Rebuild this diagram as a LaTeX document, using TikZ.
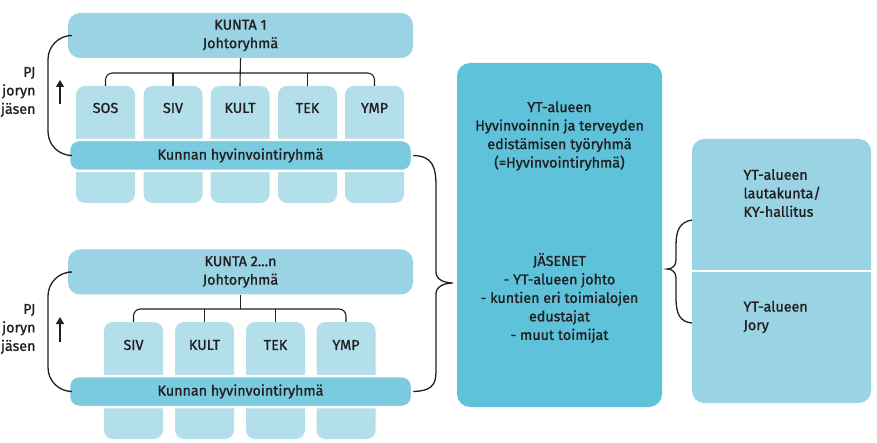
\documentclass[tikz,border=0pt]{standalone}
\usepackage{fontspec}
\setmainfont{Fira Sans}[FakeBold=1.2]
\usetikzlibrary{arrows.meta}

\definecolor{tumma}{HTML}{231F20}
\definecolor{kuntasin}{HTML}{9AD3E4}
\definecolor{sarakesin}{HTML}{B2DFEA}
\definecolor{palkkisin}{HTML}{7ACBE0}
\definecolor{ytsin}{HTML}{5DC2DA}

\begin{document}
\begin{tikzpicture}[x=1pt, y=-1pt,
	every node/.style={text=tumma, font=\fontsize{14.3}{18.5}\selectfont},
	kunta/.style={fill=kuntasin, rounded corners=12pt, minimum width=345pt, minimum height=45pt, inner sep=0pt, align=center},
	sarake/.style={fill=sarakesin, rounded corners=9pt, minimum width=59pt, minimum height=117pt, inner sep=0pt},
	palkki/.style={fill=palkkisin, draw=white, line width=2.5pt, rounded corners=10pt, minimum width=343pt, minimum height=31pt, inner sep=0pt},
	viiva/.style={draw=tumma, line width=1.1pt},
	kaari/.style={draw=tumma, line width=1.3pt},
	nuoli/.style={draw=tumma, line width=1.1pt, -{Triangle[width=8pt, length=7pt]}}]
	\useasboundingbox (0,0) rectangle (877,443);

	% kunta 1
	\node[kunta] (k1) at (240.5,35.5) {KUNTA 1\\Johtoryhmä};
	\node[sarake] (sos1) at (105.5,144.5) {};
	\node[sarake] (siv1) at (173,144.5) {};
	\node[sarake] (kult1) at (240,144.5) {};
	\node[sarake] (tek1) at (307.5,144.5) {};
	\node[sarake] (ymp1) at (374.5,144.5) {};
	\node (sos1t) at (105.5,108) {SOS};
	\node (siv1t) at (173,108) {SIV};
	\node (kult1t) at (240,108) {KULT};
	\node (tek1t) at (307.5,108) {TEK};
	\node (ymp1t) at (374.5,108) {YMP};
	\node[palkki] (bar1) at (240.5,155.5) {Kunnan hyvinvointiryhmä};
	\coordinate (h1) at (240,73);
	\draw[viiva] (k1.south) -- (kult1.north);
	\draw[viiva, rounded corners=7pt] (sos1.north) |- (h1) -| (ymp1.north);
	\draw[viiva] (siv1.north) -- (siv1.north |- h1);
	\draw[viiva] (tek1.north) -- (tek1.north |- h1);
	\draw[kaari, rounded corners=24pt] (k1.west) -| (48,96) |- (bar1.west);
	\draw[nuoli] (60,104) -- (60,80);
	\node[align=right, anchor=east] (pj1) at (39,92) {PJ\\joryn\\jäsen};

	% kunta 2...n
	\node[kunta] (k2) at (240.5,272) {KUNTA 2...n\\Johtoryhmä};
	\node[sarake] (siv2) at (133.5,380.5) {};
	\node[sarake] (kult2) at (204.5,380.5) {};
	\node[sarake] (tek2) at (275.5,380.5) {};
	\node[sarake] (ymp2) at (346,380.5) {};
	\node (siv2t) at (133.5,345) {SIV};
	\node (kult2t) at (204.5,345) {KULT};
	\node (tek2t) at (275.5,345) {TEK};
	\node (ymp2t) at (346,345) {YMP};
	\node[palkki] (bar2) at (240.5,391.5) {Kunnan hyvinvointiryhmä};
	\coordinate (h2) at (240.5,309);
	\draw[viiva] (k2.south) -- (h2);
	\draw[viiva, rounded corners=7pt] (siv2.north) |- (h2) -| (ymp2.north);
	\draw[viiva] (kult2.north) -- (kult2.north |- h2);
	\draw[viiva] (tek2.north) -- (tek2.north |- h2);
	\draw[kaari, rounded corners=24pt] (k2.west) -| (48,332) |- (bar2.west);
	\draw[nuoli] (60,342) -- (60,317);
	\node[align=right, anchor=east] (pj2) at (39,329) {PJ\\joryn\\jäsen};

	% YT-alue
	\node[fill=ytsin, rounded corners=13pt, minimum width=205pt, minimum height=344pt] (yt) at (559.5,235) {};
	\node[align=center] (ytt) at (559.5,136) {YT-alueen\\Hyvinvoinnin ja terveyden\\edistämisen työryhmä\\(=Hyvinvointiryhmä)};
	\node[align=center] (jas) at (559.5,298) {JÄSENET\\- YT-alueen johto\\- kuntien eri toimialojen\\edustajat\\- muut toimijat};
	\coordinate (kk) at (453,283);
	\draw[kaari] (bar1.east) .. controls (432,156) and (436,166) .. (436,186) -- (436,272) .. controls (436,280) and (445,283) .. (kk) .. controls (445,283) and (436,286) .. (436,294) -- (436,372) .. controls (436,386) and (430,391) .. (bar2.east);

	% lautakunta ja jory
	\node[fill=kuntasin, rounded corners=12pt, minimum width=179pt, minimum height=264pt] (lk) at (781.5,271) {};
	\draw[white, line width=2pt] (lk.west) -- (lk.east);
	\node[align=left, anchor=west] (lkt) at (740,193) {YT-alueen\\lautakunta/\\KY-hallitus};
	\node[align=left, anchor=west] (jory) at (740,317) {YT-alueen\\Jory};
	\coordinate (ky) at (692,220);
	\coordinate (ka) at (692,323);
	\coordinate (kv) at (667,269);
	\draw[kaari] (ky) .. controls (680,222) and (676,230) .. (676,245) -- (676,260) .. controls (676,266) and (672,269) .. (kv) .. controls (672,269) and (676,272) .. (676,278) -- (676,298) .. controls (676,314) and (680,322) .. (ka);
\end{tikzpicture}
\end{document}
